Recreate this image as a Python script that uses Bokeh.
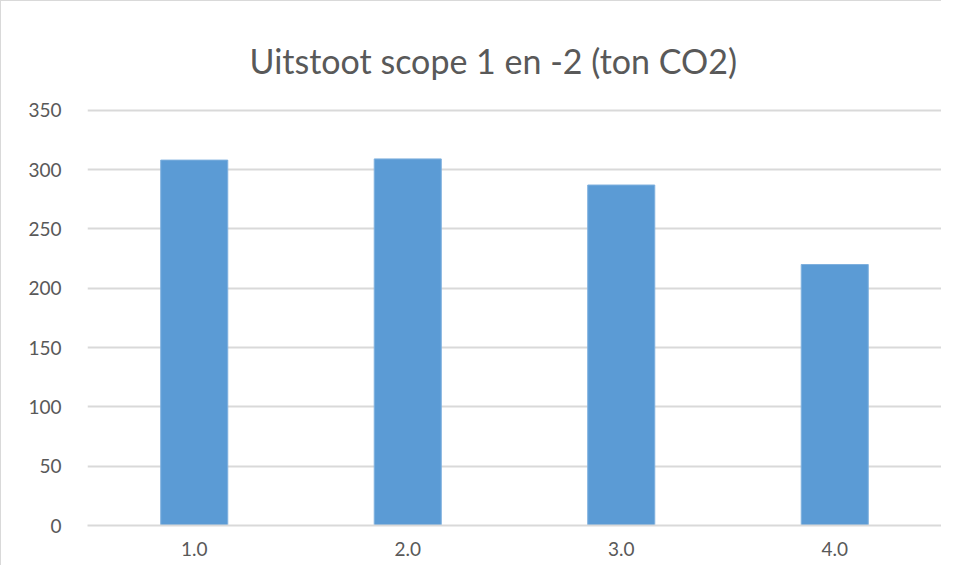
from bokeh.plotting import figure
from bokeh.models import Range1d, FixedTicker, Title
from bokeh.embed import file_html
from bokeh.resources import INLINE

categories = [1.0, 2.0, 3.0, 4.0]
tick_labels = ["1.0", "2.0", "3.0", "4.0"]
values = [308, 309, 287, 220]
y_ticks = [0, 50, 100, 150, 200, 250, 300, 350]

FONT = "Lato"
TXT = "#595959"
GRID = "#D9D9D9"
BAR = "#5B9BD5"

p = figure(width=941, height=565, output_backend="svg", toolbar_location=None,
           x_range=Range1d(0.5, 4.5), y_range=Range1d(0, 351.5),
           min_border_left=86, min_border_right=1, min_border_bottom=41, min_border_top=107)

p.vbar(x=categories, top=values, width=0.314, fill_color=BAR, line_color="#7FB0DE", line_width=1)

t = Title(text="Uitstoot scope 1 en -2 (ton CO2)", align="left", text_font=FONT,
          text_font_size="34px", text_font_style="normal", text_color=TXT,
          standoff=56, offset=162)
p.add_layout(t, "above")

p.xaxis.ticker = FixedTicker(ticks=categories)
p.xaxis.major_label_overrides = {c: l for c, l in zip(categories, tick_labels)}
p.xaxis.axis_line_color = GRID
p.xaxis.axis_line_width = 2
p.xaxis.major_tick_line_color = None
p.xaxis.minor_tick_line_color = None
p.xaxis.major_label_text_font = FONT
p.xaxis.major_label_text_font_size = "19px"
p.xaxis.major_label_text_color = TXT
p.xaxis.major_label_standoff = 10

p.yaxis.ticker = FixedTicker(ticks=y_ticks)
p.yaxis.axis_line_color = None
p.yaxis.major_tick_line_color = None
p.yaxis.minor_tick_line_color = None
p.yaxis.major_label_text_font = FONT
p.yaxis.major_label_text_font_size = "19px"
p.yaxis.major_label_text_color = TXT
p.yaxis.major_label_standoff = 20

p.xgrid.grid_line_color = None
p.ygrid.ticker = FixedTicker(ticks=y_ticks)
p.ygrid.grid_line_color = GRID
p.ygrid.grid_line_width = 2
p.outline_line_color = None
p.styles = {"border-left": "1px solid #D9D9D9", "border-top": "1px solid #D9D9D9"}

open("out.html", "w").write(file_html(p, INLINE))
